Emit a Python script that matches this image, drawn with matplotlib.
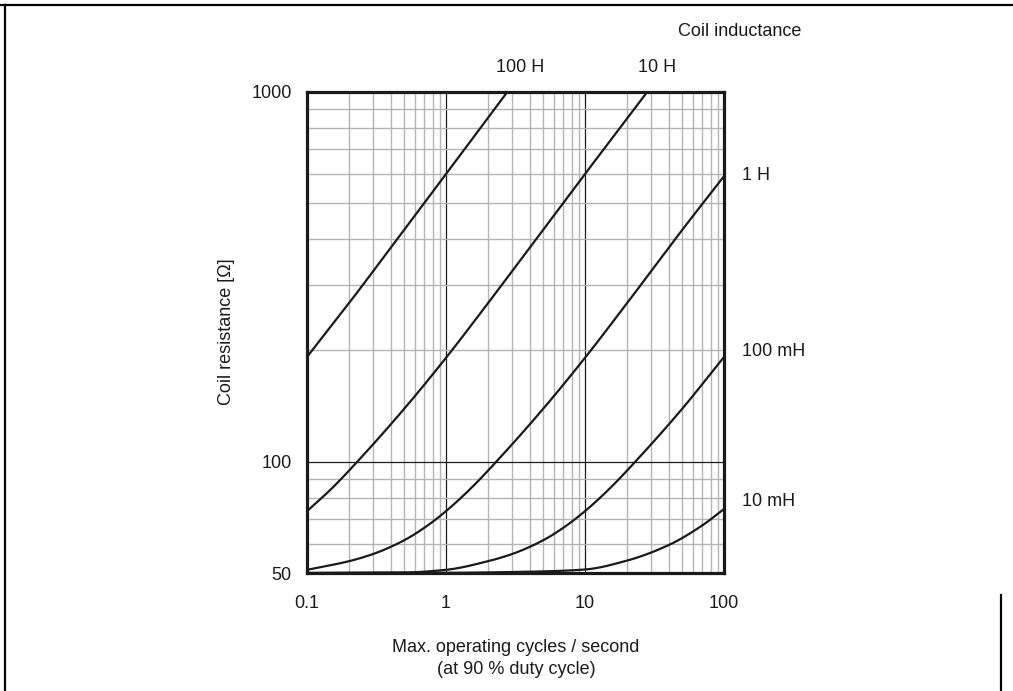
import matplotlib
matplotlib.use("Agg")
import numpy as np
import matplotlib.pyplot as plt
from matplotlib.lines import Line2D

W, H = 1013, 691

# curves: operating cycles/s vs coil resistance (ohm)
f_100H = [0.1, 0.206, 0.445, 1.0, 2.76]
R_100H = [192, 272, 400, 600, 1000]

f_10H = [0.1, 0.15, 0.23, 0.5, 1.0, 2.06, 4.45, 10, 28.0]
R_10H = [73.5, 84.5, 100, 139, 191, 272, 400, 600, 1000]

f_1H = [0.1, 0.2, 0.3, 0.5, 0.7, 1.0, 1.5, 2.3, 5, 10, 20.6, 44.5, 100]
R_1H = [51, 53.8, 56.3, 61.3, 66.3, 73.5, 84.5, 100, 139, 191, 272, 400, 592]

f_100mH = [0.1, 0.5, 1, 2, 3, 5, 7, 10, 15, 23, 50, 100]
R_100mH = [50, 50.15, 51, 53.8, 56.3, 61.3, 66.3, 73.5, 84.5, 100, 139, 192]

f_10mH = [0.1, 1, 3, 5, 10, 20, 40, 70, 100]
R_10mH = [50, 50.05, 50.3, 50.5, 51.1, 54, 59.5, 67.3, 74.5]

curves = [(f_100H, R_100H), (f_10H, R_10H), (f_1H, R_1H),
          (f_100mH, R_100mH), (f_10mH, R_10mH)]

x_ticks = [0.1, 1, 10, 100]
x_tick_labels = ["0.1", "1", "10", "100"]
y_ticks = [50, 100, 1000]
y_tick_labels = ["50", "100", "1000"]

x_minor = [m * d for d in (0.1, 1, 10) for m in range(2, 10)]
y_minor = [60, 70, 80, 90] + [m * 100 for m in range(2, 10)]


def smooth(f, r, n=40):
    # monotone cubic (Fritsch-Carlson) through the read points, in log-log space
    x = np.log10(f)
    y = np.log10(r)
    h = np.diff(x)
    d = np.diff(y) / h
    m = np.empty_like(y)
    m[0], m[-1] = d[0], d[-1]
    m[1:-1] = np.where(d[:-1] * d[1:] > 0,
                       3 * (h[:-1] + h[1:]) / ((2 * h[1:] + h[:-1]) / d[:-1]
                                               + (h[1:] + 2 * h[:-1]) / d[1:]), 0)
    xs, ys = [], []
    for i in range(len(h)):
        t = np.linspace(0, 1, n, endpoint=(i == len(h) - 1))
        h00 = 2 * t**3 - 3 * t**2 + 1
        h10 = t**3 - 2 * t**2 + t
        h01 = -2 * t**3 + 3 * t**2
        h11 = t**3 - t**2
        xs.append(x[i] + t * h[i])
        ys.append(h00 * y[i] + h10 * h[i] * m[i] + h01 * y[i + 1] + h11 * h[i] * m[i + 1])
    return 10 ** np.concatenate(xs), 10 ** np.concatenate(ys)


plt.rcParams.update({
    "font.family": ["Liberation Sans", "DejaVu Sans"],
    "font.size": 13,
})

fig = plt.figure(figsize=(W / 100, H / 100), dpi=100)
ax = fig.add_axes([307 / W, 1 - 573 / H, 417 / W, 481 / H])

for f, r in curves:
    xs, ys = smooth(f, r)
    ax.plot(xs, ys, color="#1a1a1a", lw=1.6, zorder=3)

ax.set_xscale("log")
ax.set_yscale("log")
ax.set_xlim(0.1, 100)
ax.set_ylim(50, 1000)

ax.set_xticks(x_ticks)
ax.set_xticklabels(x_tick_labels)
ax.set_yticks(y_ticks)
ax.set_yticklabels(y_tick_labels)
ax.set_xticks(x_minor, minor=True)
ax.set_yticks(y_minor, minor=True)
ax.tick_params(axis="both", which="both", length=0, labelcolor="#1a1a1a")
ax.tick_params(axis="x", which="major", pad=16)
ax.tick_params(axis="y", which="major", pad=11)
ax.tick_params(which="minor", labelbottom=False, labelleft=False)

ax.set_axisbelow(True)
ax.grid(which="minor", color="#b4b4b4", lw=1.0)
ax.grid(which="major", color="#1a1a1a", lw=0.9)
for s in ax.spines.values():
    s.set_linewidth(2.3)
    s.set_color("#1a1a1a")
    s.set_zorder(5)


def px(x, y):
    return x / W, 1 - y / H


fig.text(*px(226, 332), "Coil resistance [Ω]", rotation=90, ha="center", va="center", color="#1a1a1a")
fig.text(*px(516, 648), "Max. operating cycles / second", ha="center", va="center", color="#1a1a1a")
fig.text(*px(516, 670), "(at 90 % duty cycle)", ha="center", va="center", color="#1a1a1a")

fig.text(*px(740, 32), "Coil inductance", ha="center", va="center", color="#1a1a1a")
fig.text(*px(520, 68), "100 H", ha="center", va="center", color="#1a1a1a")
fig.text(*px(657, 68), "10 H", ha="center", va="center", color="#1a1a1a")
fig.text(*px(742, 175), "1 H", ha="left", va="center", color="#1a1a1a")
fig.text(*px(742, 352), "100 mH", ha="left", va="center", color="#1a1a1a")
fig.text(*px(742, 502), "10 mH", ha="left", va="center", color="#1a1a1a")

# outer frame
fig.add_artist(Line2D([0, 1], [1 - 5 / H, 1 - 5 / H], color="black", lw=1.6))
fig.add_artist(Line2D([5 / W, 5 / W], [0, 1 - 5 / H], color="black", lw=1.6))
fig.add_artist(Line2D([1001 / W, 1001 / W], [0, 1 - 595 / H], color="black", lw=1.6))

fig.savefig("out.png", dpi=100)
